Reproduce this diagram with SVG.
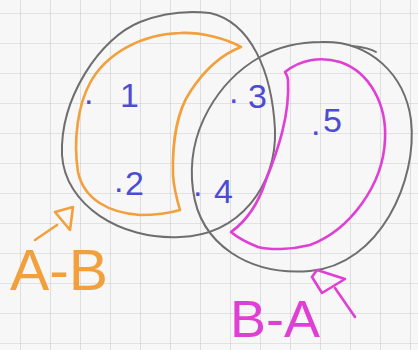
<svg xmlns="http://www.w3.org/2000/svg" width="418" height="350" viewBox="0 0 418 350">
<style>
.gray{fill:none;stroke:#6e6e6e;stroke-width:2;stroke-linecap:round;stroke-linejoin:round}
.org{fill:none;stroke:#f2a03c;stroke-width:2.6;stroke-linecap:round;stroke-linejoin:round}
.mag{fill:none;stroke:#e03fd6;stroke-width:2.6;stroke-linecap:round;stroke-linejoin:round}
.num{font-family:"Liberation Sans",Arial,sans-serif;font-size:34px;fill:#4c4cd2}
.lblo{font-family:"Liberation Sans",Arial,sans-serif;font-size:58px;fill:#f2a03c}
.lblm{font-family:"Liberation Sans",Arial,sans-serif;font-size:52px;fill:#e03fd6}
</style>
<defs>
<pattern id="grid" x="20" y="13" width="30" height="30" patternUnits="userSpaceOnUse">
<path d="M0,0 H30 M0,0 V30" fill="none" stroke="#cdcdcd" stroke-width="1.2"/>
</pattern>
</defs>
<rect width="418" height="350" fill="#f7f7f7"/>
<rect width="418" height="350" fill="url(#grid)"/>

<g id="setA">
<path class="gray" d="M210,13 C250,22 272,70 275,130 C277,185 240,235 180,237 C120,240 65,205 62,155 C60,98 100,38 140,22 C160,14 185,10 210,13 Z"/>
</g>
<g id="setB">
<path class="gray" d="M321,42 C370,40 405,75 411,120 C418,180 380,265 310,271 C250,276 200,245 193,190 C185,130 220,80 260,57 C280,46 300,42 321,42 Z"/>
<path class="gray" d="M352,46 C362,47 370,48 376,52"/>
</g>
<g id="regionAminusB">
<path class="org" d="M241,47 C225,38 200,32 180,33 C140,34 105,55 90,83 C78,105 73,140 78,172 C84,200 110,213 140,215 C155,215 170,213 180,210 C177,200 174,190 173,175 C172,140 178,110 190,92 C203,72 220,55 241,47 Z"/>
</g>
<g id="regionBminusA">
<path class="mag" d="M285,72 C300,60 320,56 340,62 C370,72 387,105 385,140 C383,185 350,230 310,245 C290,250 270,250 258,247 C248,243 238,238 231,232 C245,222 258,205 266,180 C278,150 290,115 288,80 C288,76 286,74 285,72 Z"/>
</g>

<g id="elements">
<text class="num"><tspan x="84" y="104">.</tspan><tspan x="120" y="107">1</tspan></text>
<text class="num"><tspan x="114" y="192">.</tspan><tspan x="125" y="195">2</tspan></text>
<text class="num"><tspan x="229" y="103">.</tspan><tspan x="248" y="108">3</tspan></text>
<text class="num"><tspan x="193" y="196">.</tspan><tspan x="214" y="203">4</tspan></text>
<text class="num"><tspan x="311" y="135">.</tspan><tspan x="323" y="132">5</tspan></text>
</g>

<g id="labelAminusB">
<text class="lblo" x="10" y="290" textLength="98" lengthAdjust="spacingAndGlyphs">A-B</text>
</g>
<g id="labelBminusA">
<text class="lblm" x="230" y="337" textLength="90" lengthAdjust="spacingAndGlyphs">B-A</text>
</g>

<g id="connectors">
<path class="org" d="M35,240 L57,225"/>
<polygon class="org" points="55,212 73,207 70,230"/>
<path class="mag" d="M355,317 L335,288"/>
<polygon class="mag" points="317,270 312,277 322,293 345,279"/>
</g>
</svg>
